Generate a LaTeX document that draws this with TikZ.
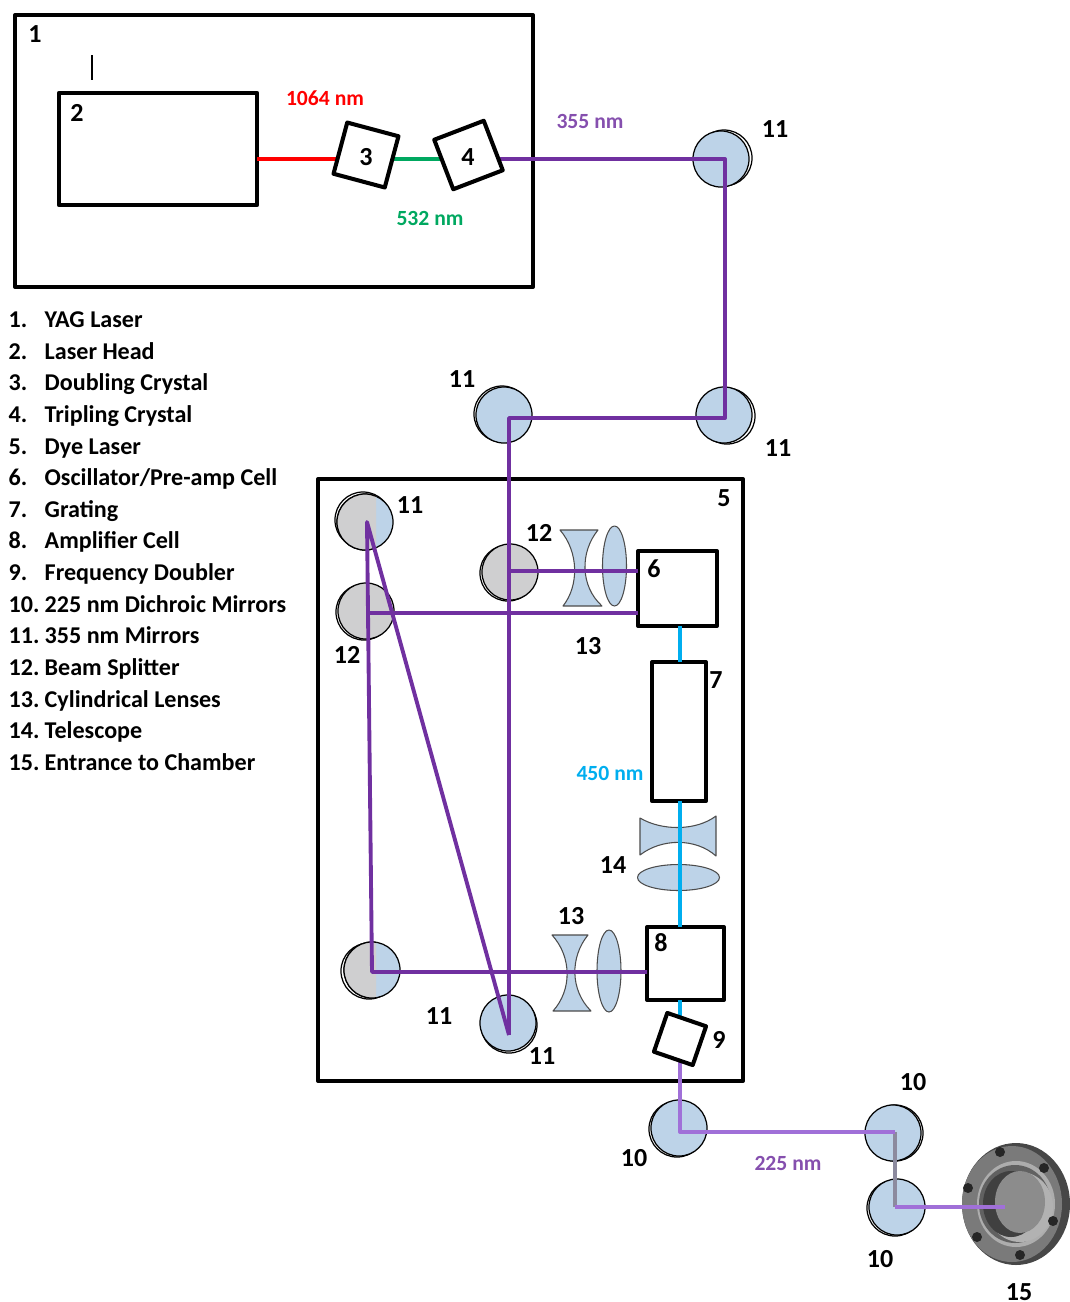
\documentclass[tikz,border=0pt]{standalone}
\usepackage{fontspec}
\setmainfont{Carlito}
\definecolor{mirrorblue}{HTML}{BDD3E8}
\definecolor{mirrorgray}{HTML}{CFCFD0}
\definecolor{beampurple}{HTML}{7030A0}
\definecolor{beamlight}{HTML}{A070D8}
\definecolor{beamgrey}{HTML}{8C8A9E}
\definecolor{beamgreen}{HTML}{00A860}
\definecolor{beamcyan}{HTML}{00AEEF}
\tikzset{
  framebox/.style={draw=black,line width=1.15pt},
  cellbox/.style={draw=black,fill=white,line width=1.15pt,inner sep=0pt,outer sep=0pt,font=\fontsize{7.4}{8}\selectfont\bfseries},
  mirrorfront/.style={circle,draw=black,line width=0.35pt,inner sep=0pt,minimum size=0.56cm},
  lensfill/.style={draw=black!70,fill=mirrorblue,line width=0.3pt},
  beam/.style={line width=1.1pt},
  numlabel/.style={inner sep=0pt,font=\fontsize{7.4}{8}\selectfont\bfseries},
  wavelabel/.style={inner sep=0pt,font=\fontsize{6.15}{7}\selectfont\bfseries},
  legendtext/.style={inner sep=0pt,anchor=base west,font=\fontsize{6.85}{8}\selectfont\bfseries}
}
\begin{document}
\begin{tikzpicture}[x=0.01cm,y=-0.01cm,line join=round]
\useasboundingbox (0,0) rectangle (1070,1302);

\draw[framebox] (15,15) rectangle (533,287);
\draw[framebox] (318,479) rectangle (743,1081);
\draw[line width=0.4pt] (92,55)--(92,80);

\foreach \mname/\px/\py/\dx/\dy/\mcol in {
  ma/721/159/3/-1/mirrorblue, mb/724/415/3/1/mirrorblue, mc/504/415/-2/-1/mirrorblue,
  md/365/522/-2/-2/mirrorblue, me/366/611/-2/1/mirrorgray, mf/510/572/-2/1/mirrorgray,
  mg/372/970/-3/1/mirrorblue, mh/508/1023/1/2/mirrorblue, mi/679/1128/-2/1/mirrorblue,
  mj/893/1133/2/0/mirrorblue, mk/897/1207/-2/1/mirrorblue}{
  \node[mirrorfront,fill=white] (\mname back) at (\px+\dx,\py+\dy) {};
  \node[mirrorfront,fill=\mcol] (\mname) at (\px,\py) {};
}
\begin{scope}
\clip (330,490) rectangle (376,560);
\node[mirrorfront,fill=mirrorgray] at (md) {};
\end{scope}
\begin{scope}
\clip (336,940) rectangle (376,1010);
\node[mirrorfront,fill=mirrorgray] at (mg) {};
\end{scope}

\draw[lensfill] (560,530) -- (598,530) .. controls (580,552) and (580,586) .. (602,606) -- (563,606) .. controls (579,586) and (579,552) .. (560,530) -- cycle;
\draw[lensfill] (614.5,566) ellipse (12 and 40);
\draw[lensfill] (552,935) -- (588,935) .. controls (570,957) and (570,990) .. (591,1011) -- (553,1011) .. controls (572,990) and (572,957) .. (552,935) -- cycle;
\draw[lensfill] (609,971) ellipse (12 and 41);
\draw[lensfill] (640,818) .. controls (662,831) and (696,831) .. (716,816) -- (716,856) .. controls (696,838) and (662,838) .. (640,855) -- cycle;
\draw[lensfill] (678.5,877.5) ellipse (41 and 13);

\coordinate (P1) at (725,159);
\coordinate (P2) at (725,418);
\coordinate (P3) at (509,418);
\coordinate (P4) at (509,1035);
\coordinate (P5) at (509,571);
\coordinate (P6) at (638,571);
\coordinate (P7) at (368,613);
\coordinate (P8) at (638,613);
\coordinate (P9) at (367,522);
\coordinate (P10) at (372,972);
\coordinate (P11) at (647,972);
\coordinate (Q1) at (680,1132);
\coordinate (Q2) at (895,1132);
\coordinate (Q3) at (895,1207);
\coordinate (Q4) at (1005,1207);

\fill[black!72] (1016,1204) ellipse (54 and 61);
\fill[black!52] (1012,1204) ellipse (50 and 58);
\fill[black!32] (1016,1204) ellipse (39 and 43);
\fill[black!62] (1015,1204) ellipse (36 and 39);
\fill[black!30] (1020,1207) ellipse (33 and 35);
\fill[black!75] (1011,1204) ellipse (28 and 33);
\fill[black!45] (1020,1202) ellipse (25 and 31);
\foreach \bx/\by in {1000/1152,1044/1168,1053/1221,1020/1255,977/1237,968/1188}{
  \fill[black!85] (\bx,\by) circle (5);
}

\node[cellbox,minimum width=1.98cm,minimum height=1.12cm] (b2) at (158,149) {};
\node[cellbox,minimum width=0.79cm,minimum height=0.75cm] (b6) at (677.5,588.5) {};
\node[cellbox,minimum width=0.54cm,minimum height=1.39cm] (b7) at (679,731.5) {};
\node[cellbox,minimum width=0.77cm,minimum height=0.73cm] (b8) at (685.5,963.5) {};

\coordinate (R1) at (257,159);
\coordinate (R2) at (366,159);
\coordinate (G1) at (468,159);
\coordinate (V1) at (468,159);
\coordinate (C1) at (680,626);
\coordinate (C2) at (680,662);
\coordinate (C3) at (680,801);
\coordinate (C4) at (680,927);
\coordinate (C5) at (680,1000);
\coordinate (C6) at (680,1039);

\draw[beam,red] (R1) -- (R2);
\draw[beam,beamgreen] (R2) -- (G1);
\draw[beam,beampurple] (V1) -- (P1) -- (P2) -- (P3) -- (P4);
\draw[beam,beampurple] (P5) -- (P6);
\draw[beam,beampurple] (P7) -- (P8);
\draw[beam,beampurple] (P4) -- (P9) -- (P10) -- (P11);
\draw[beam,beamcyan] (C1) -- (C2);
\draw[beam,beamcyan] (C3) -- (C4);
\draw[beam,beamcyan] (C5) -- (C6);
\draw[beam,beamgrey] (Q2) -- (Q3);
\draw[beam,beamlight] (C6) -- (Q1) -- (Q2);
\draw[beam,beamlight] (Q3) -- (Q4);

\node[cellbox,minimum size=0.53cm,rotate=-15] (b3) at (366,155) {};
\node[cellbox,minimum size=0.53cm,rotate=21] (b4) at (468.5,155) {};
\node[cellbox,minimum size=0.41cm,rotate=-19] (b9) at (680,1039) {};

\foreach \lname/\ltext/\px/\py in {
  a/1/35/34, b/2/77/113, c/3/366/157, d/4/468/157, e/5/724/498, f/6/654/569, g/7/716/680,
  h/8/661/943, i/9/719/1040, j/10/913/1082, k/10/634/1158, l/10/880/1259, m/11/775/129,
  n/11/462/379, o/11/778/448, p/11/410/505, q/11/439/1016, r/11/542/1056, s/12/539/533,
  t/12/347/655, u/13/588/646, v/13/571/916, w/14/613/865, x/15/1019/1292}{
  \node[numlabel] (num\lname) at (\px,\py) {\ltext};
}

\node[wavelabel,text=red] (wave1) at (325,98) {1064 nm};
\node[wavelabel,text=beamgreen] (wave2) at (430,218) {532 nm};
\node[wavelabel,text=beampurple!85] (wave3) at (590,121) {355 nm};
\node[wavelabel,text=beamcyan] (wave4) at (610,773) {450 nm};
\node[wavelabel,text=beampurple!85] (wave5) at (788,1163) {225 nm};

\foreach \idx/\ltext/\py in {
  1/YAG Laser/327, 2/Laser Head/359, 3/Doubling Crystal/390, 4/Tripling Crystal/422,
  5/Dye Laser/454, 6/Oscillator\slash Pre-amp Cell/485, 7/Grating/517, 8/Amplifier Cell/548,
  9/Frequency Doubler/580, 10/225 nm Dichroic Mirrors/612, 11/355 nm Mirrors/643,
  12/Beam Splitter/675, 13/Cylindrical Lenses/707, 14/Telescope/738, 15/Entrance to Chamber/770}{
  \node[legendtext] (idx\idx) at (8,\py) {\idx.};
  \node[legendtext] (item\idx) at (44,\py) {\ltext};
}
\end{tikzpicture}
\end{document}
